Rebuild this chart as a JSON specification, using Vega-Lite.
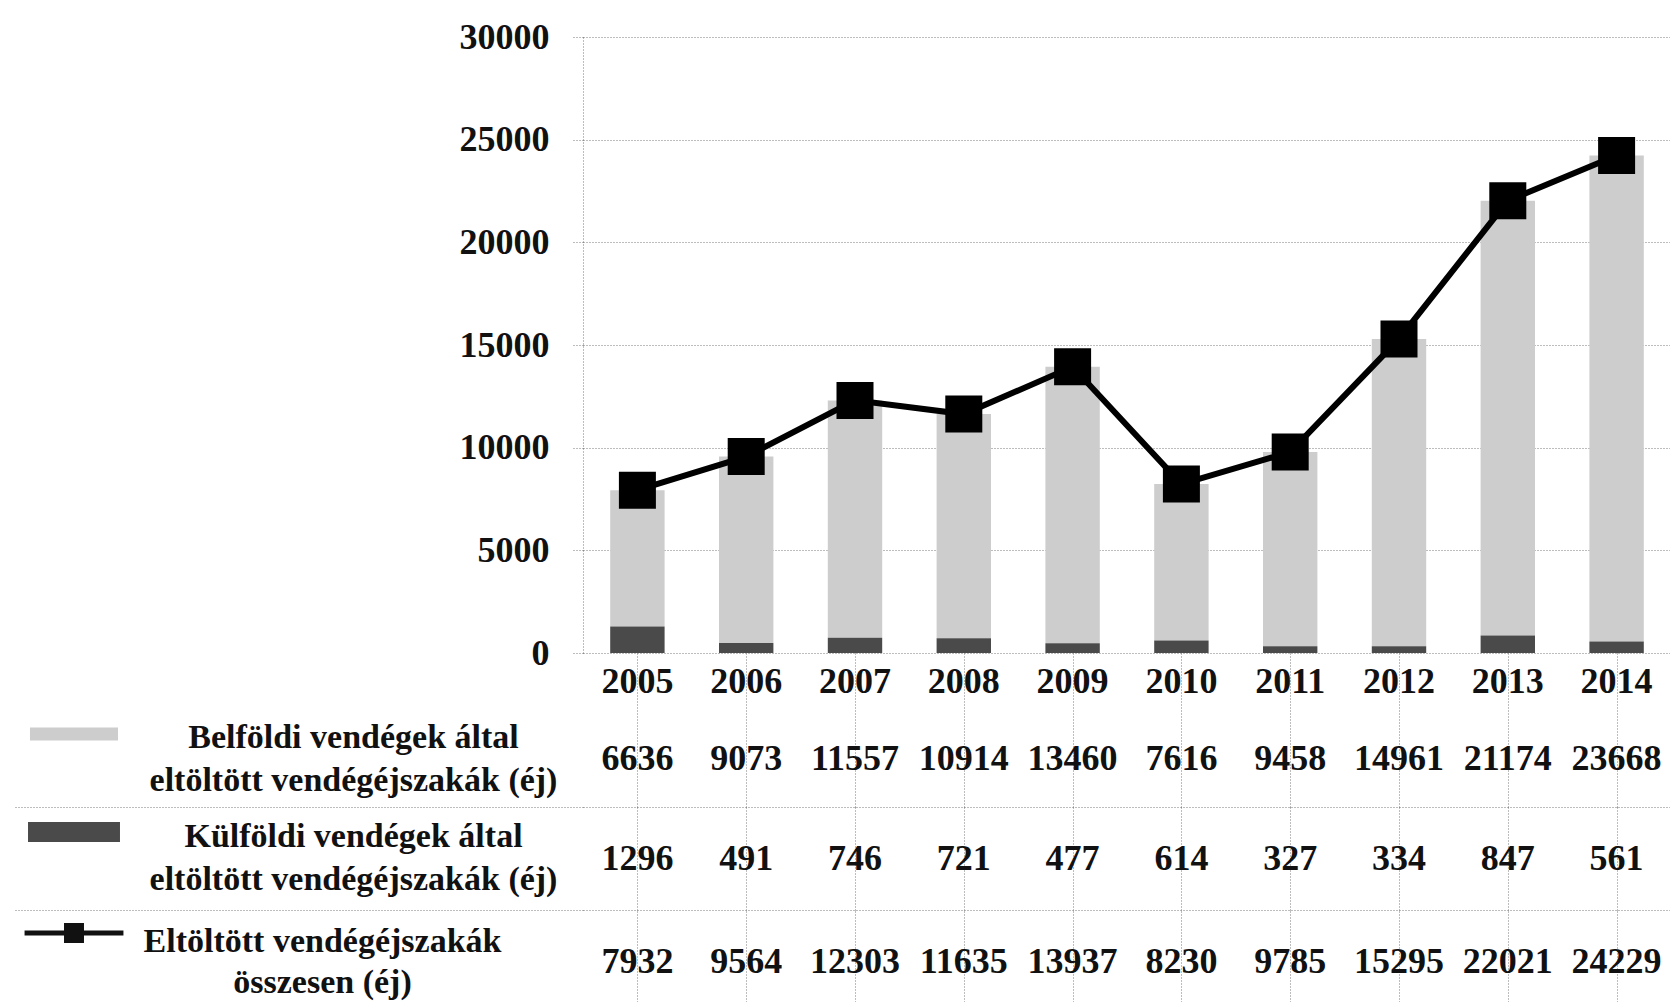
{
  "$schema": "https://vega.github.io/schema/vega-lite/v6.json",
  "background": "white",
  "padding": {"left": 12, "top": 19, "right": 0, "bottom": 0},
  "bounds": "flush",
  "spacing": 0,
  "config": {
    "view": {"stroke": null},
    "axis": {
      "labelFont": "Liberation Serif", "labelFontWeight": "bold", "labelColor": "#111111", "labelFontSize": 36,
      "gridColor": "#7a7a7a", "gridDash": [1, 2], "gridWidth": 1,
      "domainColor": "#7a7a7a", "domainDash": [1, 2],
      "tickColor": "#7a7a7a", "tickDash": [1, 2], "title": null
    },
    "text": {"font": "Liberation Serif", "fontWeight": "bold", "fontSize": 36, "color": "#111111"}
  },
  "datasets": {
    "d": [
      {"year": "2005", "series": "Belföldi vendégek által|eltöltött vendégéjszakák (éj)", "value": 6636},
      {"year": "2006", "series": "Belföldi vendégek által|eltöltött vendégéjszakák (éj)", "value": 9073},
      {"year": "2007", "series": "Belföldi vendégek által|eltöltött vendégéjszakák (éj)", "value": 11557},
      {"year": "2008", "series": "Belföldi vendégek által|eltöltött vendégéjszakák (éj)", "value": 10914},
      {"year": "2009", "series": "Belföldi vendégek által|eltöltött vendégéjszakák (éj)", "value": 13460},
      {"year": "2010", "series": "Belföldi vendégek által|eltöltött vendégéjszakák (éj)", "value": 7616},
      {"year": "2011", "series": "Belföldi vendégek által|eltöltött vendégéjszakák (éj)", "value": 9458},
      {"year": "2012", "series": "Belföldi vendégek által|eltöltött vendégéjszakák (éj)", "value": 14961},
      {"year": "2013", "series": "Belföldi vendégek által|eltöltött vendégéjszakák (éj)", "value": 21174},
      {"year": "2014", "series": "Belföldi vendégek által|eltöltött vendégéjszakák (éj)", "value": 23668},
      {"year": "2005", "series": "Külföldi vendégek által|eltöltött vendégéjszakák (éj)", "value": 1296},
      {"year": "2006", "series": "Külföldi vendégek által|eltöltött vendégéjszakák (éj)", "value": 491},
      {"year": "2007", "series": "Külföldi vendégek által|eltöltött vendégéjszakák (éj)", "value": 746},
      {"year": "2008", "series": "Külföldi vendégek által|eltöltött vendégéjszakák (éj)", "value": 721},
      {"year": "2009", "series": "Külföldi vendégek által|eltöltött vendégéjszakák (éj)", "value": 477},
      {"year": "2010", "series": "Külföldi vendégek által|eltöltött vendégéjszakák (éj)", "value": 614},
      {"year": "2011", "series": "Külföldi vendégek által|eltöltött vendégéjszakák (éj)", "value": 327},
      {"year": "2012", "series": "Külföldi vendégek által|eltöltött vendégéjszakák (éj)", "value": 334},
      {"year": "2013", "series": "Külföldi vendégek által|eltöltött vendégéjszakák (éj)", "value": 847},
      {"year": "2014", "series": "Külföldi vendégek által|eltöltött vendégéjszakák (éj)", "value": 561},
      {"year": "2005", "series": "Eltöltött vendégéjszakák|összesen (éj)", "value": 7932},
      {"year": "2006", "series": "Eltöltött vendégéjszakák|összesen (éj)", "value": 9564},
      {"year": "2007", "series": "Eltöltött vendégéjszakák|összesen (éj)", "value": 12303},
      {"year": "2008", "series": "Eltöltött vendégéjszakák|összesen (éj)", "value": 11635},
      {"year": "2009", "series": "Eltöltött vendégéjszakák|összesen (éj)", "value": 13937},
      {"year": "2010", "series": "Eltöltött vendégéjszakák|összesen (éj)", "value": 8230},
      {"year": "2011", "series": "Eltöltött vendégéjszakák|összesen (éj)", "value": 9785},
      {"year": "2012", "series": "Eltöltött vendégéjszakák|összesen (éj)", "value": 15295},
      {"year": "2013", "series": "Eltöltött vendégéjszakák|összesen (éj)", "value": 22021},
      {"year": "2014", "series": "Eltöltött vendégéjszakák|összesen (éj)", "value": 24229}
    ]
  },
  "resolve": {"scale": {"x": "independent", "y": "independent"}},
  "vconcat": [
    {
      "width": 1088,
      "height": 616,
      "data": {"name": "d"},
      "layer": [
        {
          "transform": [{"filter": "substring(datum.series, 0, 1) != 'E'"}],
          "mark": {"type": "bar"},
          "encoding": {
            "x": {"field": "year", "type": "nominal", "axis": null, "scale": {"paddingInner": 0.5, "paddingOuter": 0.25}},
            "y": {
              "field": "value", "type": "quantitative", "stack": "zero",
              "scale": {"domain": [0, 30000], "nice": false},
              "axis": {"values": [0, 5000, 10000, 15000, 20000, 25000, 30000], "format": "d", "grid": true, "domain": true, "ticks": true, "tickSize": 12, "labelPadding": 22, "labelFontSize": 36}
            },
            "color": {
              "field": "series", "type": "nominal",
              "scale": {
                "domain": ["Belföldi vendégek által|eltöltött vendégéjszakák (éj)", "Külföldi vendégek által|eltöltött vendégéjszakák (éj)", "Eltöltött vendégéjszakák|összesen (éj)"],
                "range": ["#cdcdcd", "#4a4a4a", "#111111"]
              },
              "legend": {
                "orient": "none", "legendX": -557, "legendY": 649, "direction": "vertical", "title": null,
                "labelExpr": "' '", "labelFontSize": 1, "labelOpacity": 0, "symbolSize": 9216, "rowPadding": 43,
                "symbolStrokeWidth": 0, "symbolOpacity": 1,
                "encode": {
                  "symbols": {
                    "update": {
                      "shape": {"signal": "substring(datum.value, 0, 1) == 'B' ? 'M-0.917,-0.135H0.917V0.135H-0.917Z' : substring(datum.value, 0, 1) == 'K' ? 'M-0.958,-0.208H0.958V0.208H-0.958Z' : 'M-1.03,-0.052H-0.208V-0.208H0.208V-0.052H1.03V0.052H0.208V0.208H-0.208V0.052H-1.03Z'"},
                      "fill": {"signal": "scale('color', datum.value)"},
                      "strokeWidth": {"value": 0},
                      "opacity": {"value": 1}
                    }
                  }
                }
              }
            },
            "order": {"field": "series", "sort": "descending"}
          }
        },
        {
          "transform": [{"filter": "substring(datum.series, 0, 1) == 'E'"}],
          "mark": {"type": "line", "color": "#000000", "strokeWidth": 6},
          "encoding": {
            "x": {"field": "year", "type": "nominal"},
            "y": {"field": "value", "type": "quantitative"}
          }
        },
        {
          "transform": [{"filter": "substring(datum.series, 0, 1) == 'E'"}],
          "mark": {"type": "point", "shape": "square", "filled": true, "size": 1369, "color": "#000000", "opacity": 1},
          "encoding": {
            "x": {"field": "year", "type": "nominal"},
            "y": {"field": "value", "type": "quantitative"}
          }
        }
      ]
    },
    {
      "width": 1088,
      "height": 58,
      "data": {"name": "d"},
      "transform": [{"filter": "substring(datum.series, 0, 1) == 'E'"}],
      "mark": {"type": "text", "baseline": "middle"},
      "encoding": {
        "x": {"field": "year", "type": "nominal", "scale": {"paddingInner": 0, "paddingOuter": 0},
              "axis": {"labels": false, "ticks": false, "domain": false, "grid": true, "bandPosition": 1}},
        "text": {"field": "year", "type": "nominal"}
      }
    },
    {
      "width": 1088,
      "height": 96,
      "data": {"name": "d"},
      "transform": [{"filter": "substring(datum.series, 0, 1) == 'B'"}],
      "mark": {"type": "text", "baseline": "middle"},
      "encoding": {
        "x": {"field": "year", "type": "nominal", "scale": {"paddingInner": 0, "paddingOuter": 0},
              "axis": {"labels": false, "ticks": false, "domain": false, "grid": true, "bandPosition": 1}},
        "y": {"field": "series", "type": "nominal", "scale": {"paddingInner": 0, "paddingOuter": 0},
              "axis": {"ticks": false, "domain": false, "grid": false, "labelAlign": "center", "labelBaseline": "middle", "labelPadding": 230, "labelOffset": -22, "labelLineHeight": 43, "labelLimit": 1000, "labelFontSize": 34, "labelExpr": "datum.value ? split(datum.value, '|') : ''"}},
        "text": {"field": "value", "type": "quantitative", "format": "d"}
      }
    },
    {
      "width": 1088,
      "height": 103,
      "data": {"name": "d"},
      "transform": [{"filter": "substring(datum.series, 0, 1) == 'K'"}],
      "mark": {"type": "text", "baseline": "middle"},
      "encoding": {
        "x": {"field": "year", "type": "nominal", "scale": {"paddingInner": 0, "paddingOuter": 0},
              "axis": {"labels": false, "ticks": false, "domain": false, "grid": true, "bandPosition": 1}},
        "y": {"field": "series", "type": "nominal", "scale": {"paddingInner": 0, "paddingOuter": 0},
              "axis": {"ticks": true, "tickSize": 570, "tickBand": "extent", "domain": false, "grid": true, "labelAlign": "center", "labelBaseline": "middle", "labelPadding": -340, "labelOffset": -22, "labelLineHeight": 43, "labelLimit": 1000, "labelFontSize": 34, "labelExpr": "datum.value ? split(datum.value, '|') : ''"}},
        "text": {"field": "value", "type": "quantitative", "format": "d"}
      }
    },
    {
      "width": 1088,
      "height": 104,
      "data": {"name": "d"},
      "transform": [{"filter": "substring(datum.series, 0, 1) == 'E'"}],
      "mark": {"type": "text", "baseline": "middle"},
      "encoding": {
        "x": {"field": "year", "type": "nominal", "scale": {"paddingInner": 0, "paddingOuter": 0},
              "axis": {"labels": false, "ticks": false, "domain": false, "grid": true, "bandPosition": 1}},
        "y": {"field": "series", "type": "nominal", "scale": {"paddingInner": 0, "paddingOuter": 0},
              "axis": {"ticks": false, "domain": false, "grid": false, "labelAlign": "center", "labelBaseline": "middle", "labelPadding": 261, "labelOffset": -21, "labelLineHeight": 41, "labelLimit": 1000, "labelFontSize": 34, "labelExpr": "datum.value ? split(datum.value, '|') : ''"}},
        "text": {"field": "value", "type": "quantitative", "format": "d"}
      }
    }
  ]
}
